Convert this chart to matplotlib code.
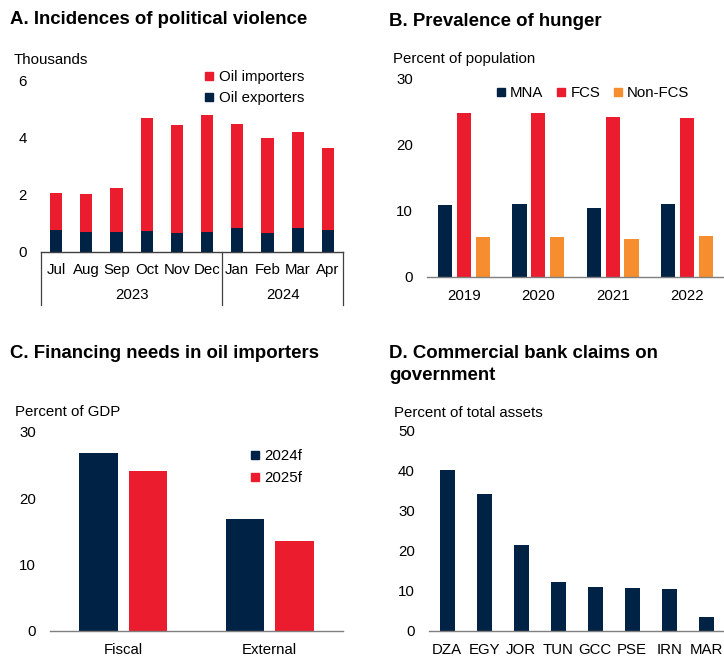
import matplotlib.pyplot as plt
import matplotlib.transforms as mtransforms
from matplotlib.lines import Line2D

plt.rcParams['font.family'] = ['Liberation Sans', 'DejaVu Sans']

NAVY = '#002244'
RED = '#EB1C2D'
ORANGE = '#F68D2E'
GRAY = '#7f7f7f'
FS = 10.8

# Panel A: political violence (thousands)
months = ['Jul', 'Aug', 'Sep', 'Oct', 'Nov', 'Dec', 'Jan', 'Feb', 'Mar', 'Apr']
oil_exporters = [0.77, 0.70, 0.70, 0.73, 0.66, 0.70, 0.83, 0.64, 0.82, 0.75]
oil_importers = [1.27, 1.32, 1.54, 3.94, 3.77, 4.07, 3.63, 3.33, 3.38, 2.86]

# Panel B: prevalence of hunger
years_b = ['2019', '2020', '2021', '2022']
mna = [10.9, 11.0, 10.5, 11.0]
fcs = [24.8, 24.8, 24.2, 24.1]
non_fcs = [6.0, 6.0, 5.7, 6.2]

# Panel C: financing needs
fin_cats = ['Fiscal', 'External']
fin_2024 = [26.8, 16.8]
fin_2025 = [24.1, 13.5]

# Panel D: bank claims on government
countries = ['DZA', 'EGY', 'JOR', 'TUN', 'GCC', 'PSE', 'IRN', 'MAR']
claims = [40.1, 34.3, 21.4, 12.3, 10.9, 10.7, 10.5, 3.5]

W, H = 724, 656
fig = plt.figure(figsize=(W / 100, H / 100), dpi=100)


def px_axes(left, right, top, bottom):
    return fig.add_axes([left / W, 1 - bottom / H, (right - left) / W, (bottom - top) / H])


def ftext(x, y, s, **kw):
    kw.setdefault('fontsize', FS)
    fig.text(x / W, 1 - y / H, s, va='center', ha='left', **kw)


def style(ax, pad_x):
    for s in ['left', 'right', 'top']:
        ax.spines[s].set_visible(False)
    ax.spines['bottom'].set_color(GRAY)
    ax.spines['bottom'].set_linewidth(1.0)
    ax.tick_params(axis='both', length=0, labelsize=FS)
    ax.tick_params(axis='y', pad=10)
    ax.tick_params(axis='x', pad=pad_x)


def sq(color):
    return Line2D([], [], marker='s', ls='', color=color, markersize=6)


# ---- A ----
axA = px_axes(41, 343, 80, 251.7)
x = range(len(months))
axA.bar(x, oil_exporters, width=0.41, color=NAVY)
axA.bar(x, oil_importers, bottom=oil_exporters, width=0.41, color=RED)
axA.set_ylim(0, 6)
axA.set_yticks([0, 2, 4, 6])
axA.set_xlim(-0.5, 9.5)
axA.set_xticks(list(x))
axA.set_xticklabels(months)
style(axA, 8)
axA.spines['bottom'].set_color('#404040')
tr = mtransforms.blended_transform_factory(axA.transData, axA.transAxes)
for xv in [-0.5, 5.5, 9.5]:
    axA.plot([xv, xv], [0, -0.31], transform=tr, clip_on=False, color='#404040', lw=0.9)
axA.text(2.5, -0.252, '2023', transform=tr, ha='center', va='center', fontsize=FS)
axA.text(7.5, -0.252, '2024', transform=tr, ha='center', va='center', fontsize=FS)
axA.legend([sq(RED), sq(NAVY)], ['Oil importers', 'Oil exporters'],
           loc='upper left', bbox_to_anchor=(203 / W, 1 - 70 / H), bbox_transform=fig.transFigure,
           frameon=False, fontsize=FS, borderpad=0, handlelength=0.8, handletextpad=0.3,
           labelspacing=0.45, borderaxespad=0)
ftext(10, 20, 'A. Incidences of political violence', fontsize=13.4, fontweight='bold')
ftext(14, 60, 'Thousands')

# ---- B ----
axB = px_axes(427, 724, 79, 276.7)
xb = range(len(years_b))
axB.bar([i - 0.254 for i in xb], mna, width=0.19, color=NAVY, label='MNA')
axB.bar(list(xb), fcs, width=0.19, color=RED, label='FCS')
axB.bar([i + 0.254 for i in xb], non_fcs, width=0.19, color=ORANGE, label='Non-FCS')
axB.set_ylim(0, 30)
axB.set_yticks([0, 10, 20, 30])
axB.set_xlim(-0.5, 3.5)
axB.set_xticks(list(xb))
axB.set_xticklabels(years_b)
style(axB, 9)
axB.legend([sq(NAVY), sq(RED), sq(ORANGE)], ['MNA', 'FCS', 'Non-FCS'], ncol=3,
           loc='center left', bbox_to_anchor=(495 / W, 1 - 93 / H), bbox_transform=fig.transFigure,
           frameon=False, fontsize=FS, borderpad=0, handlelength=0.8, handletextpad=0.2,
           columnspacing=0.8, borderaxespad=0)
ftext(389, 22, 'B. Prevalence of hunger', fontsize=13.4, fontweight='bold')
ftext(393, 59, 'Percent of population')

# ---- C ----
axC = px_axes(50, 343, 431.7, 631)
xc = range(len(fin_cats))
axC.bar([i - 0.169 for i in xc], fin_2024, width=0.26, color=NAVY)
axC.bar([i + 0.169 for i in xc], fin_2025, width=0.26, color=RED)
axC.set_ylim(0, 30)
axC.set_yticks([0, 10, 20, 30])
axC.set_xlim(-0.5, 1.5)
axC.set_xticks(list(xc))
axC.set_xticklabels(fin_cats)
style(axC, 8.5)
axC.legend([sq(NAVY), sq(RED)], ['2024f', '2025f'],
           loc='upper left', bbox_to_anchor=(249 / W, 1 - 449 / H), bbox_transform=fig.transFigure,
           frameon=False, fontsize=FS, borderpad=0, handlelength=0.8, handletextpad=0.2,
           labelspacing=0.55, borderaxespad=0)
ftext(10, 353, 'C. Financing needs in oil importers', fontsize=13.4, fontweight='bold')
ftext(15, 412, 'Percent of GDP')

# ---- D ----
axD = px_axes(428.7, 724.7, 430.7, 631)
xd = range(len(countries))
axD.bar(list(xd), claims, width=0.4, color=NAVY)
axD.set_ylim(0, 50)
axD.set_yticks([0, 10, 20, 30, 40, 50])
axD.set_xlim(-0.5, 7.5)
axD.set_xticks(list(xd))
axD.set_xticklabels(countries)
style(axD, 8.5)
ftext(389, 353, 'D. Commercial bank claims on', fontsize=13.4, fontweight='bold')
ftext(389, 375, 'government', fontsize=13.4, fontweight='bold')
ftext(394, 413, 'Percent of total assets')

fig.savefig('out.png', dpi=100)
